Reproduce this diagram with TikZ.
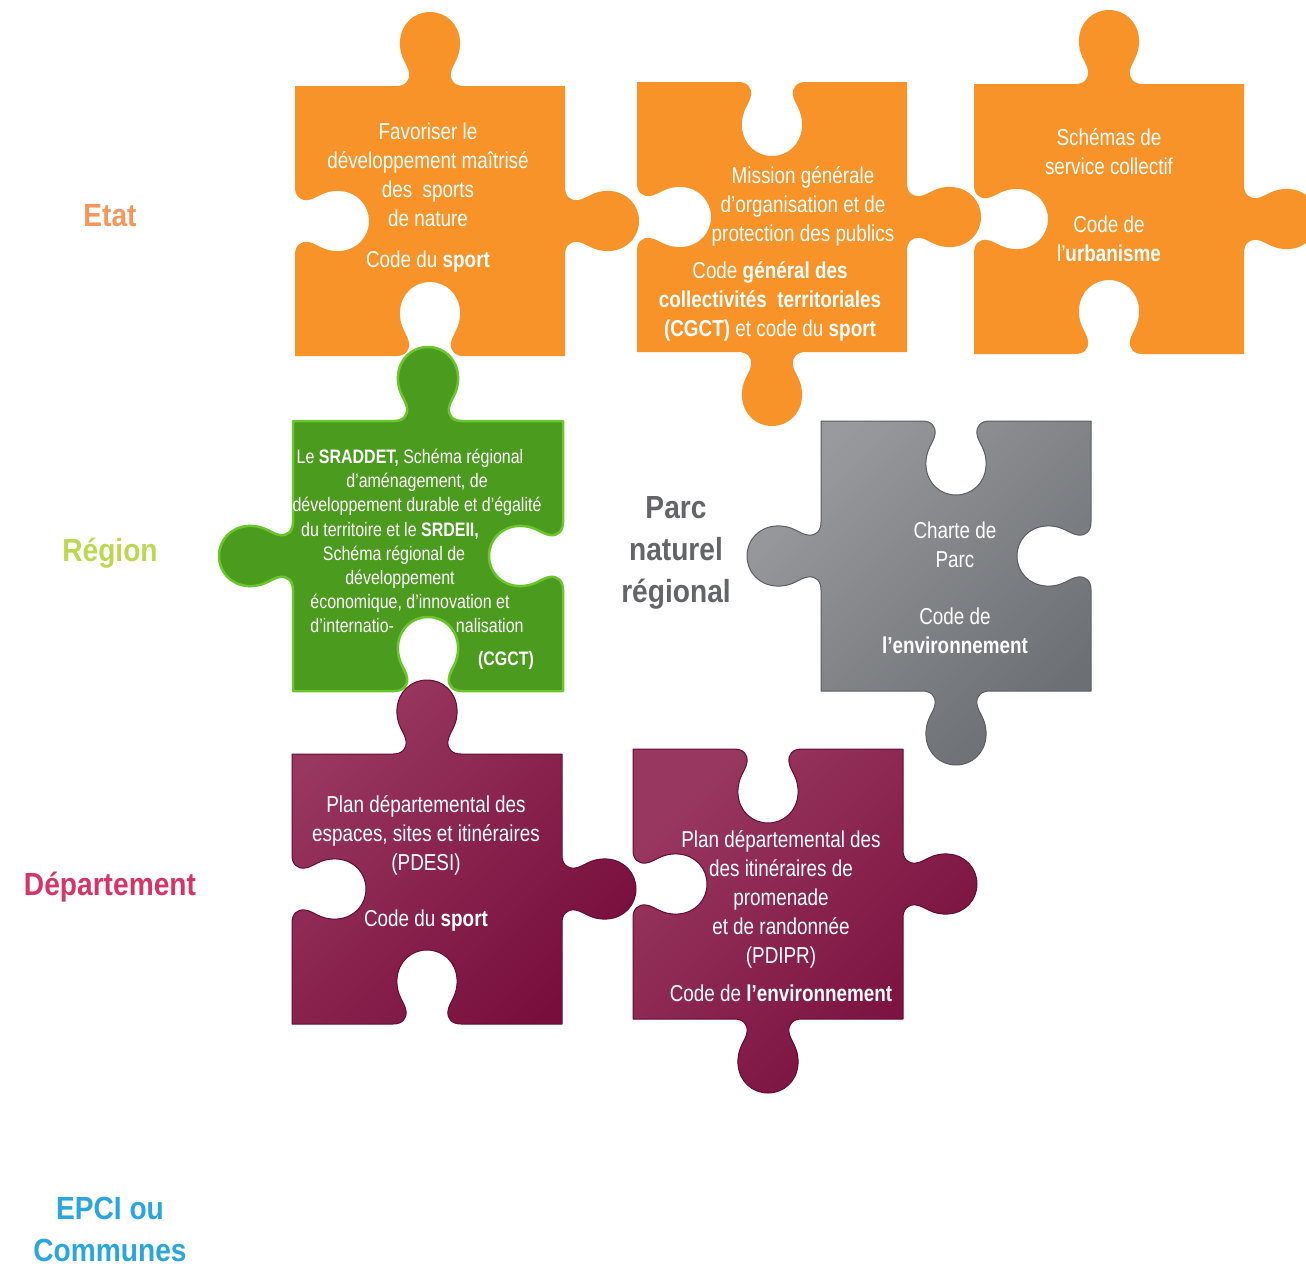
\documentclass[tikz,border=0pt]{standalone}
\usepackage{xcolor}
\usepackage{fontspec}
\setmainfont{Liberation Sans}[FakeStretch=0.82]
\newfontfamily\headfont{Liberation Sans}[FakeStretch=0.88]
\usepackage{tikz}
\definecolor{pzorange}{RGB}{247,147,41}
\definecolor{pzgreen}{RGB}{75,155,30}
\definecolor{pzgreenlight}{RGB}{105,198,45}
\definecolor{pzgrayL}{RGB}{152,154,157}
\definecolor{pzgrayD}{RGB}{108,111,115}
\definecolor{pzpurpleL}{RGB}{152,55,95}
\definecolor{pzpurpleD}{RGB}{120,14,60}
\definecolor{etatcol}{RGB}{247,150,90}
\definecolor{regioncol}{RGB}{190,214,82}
\definecolor{deptcol}{RGB}{214,52,100}
\definecolor{epcicol}{RGB}{42,165,222}
\definecolor{parccol}{RGB}{100,101,105}
\tikzset{
    piece/.style={line join=round},
    orangepiece/.style={piece, fill=pzorange},
    greenpiece/.style={piece, fill=pzgreen, draw=pzgreenlight, line width=0.05cm},
    graypiece/.style={piece, top color=pzgrayL, bottom color=pzgrayD, shading angle=45, draw=pzgrayD!85!black, line width=0.02cm},
    purplepiece/.style={piece, top color=pzpurpleL, bottom color=pzpurpleD, shading angle=45, draw=pzpurpleD!85!black, line width=0.02cm},
    intext/.style={text=white, align=center, font=\fontsize{13.1}{16.5}\selectfont},
    smalltext/.style={text=white, align=center, font=\fontsize{11.1}{13.7}\selectfont},
    level/.style={align=center, font=\headfont\bfseries\fontsize{18.2}{23.9}\selectfont}
}
% point u along a side, v outwards (times tab/blank sign)
\newcommand\pzpt[9]{({#1+(#8)*(#3)+(#7)*(#9)*(#5)},{#2+(#8)*(#4)+(#7)*(#9)*(#6)})}
\newcommand\pzknob[1]{-- #1{101}{0}
    .. controls #1{110}{0} and #1{115}{5} .. #1{114}{13}
    .. controls #1{113}{22} and #1{104}{28} .. #1{105}{45}
    .. controls #1{106}{62} and #1{119}{74} .. #1{135}{74}
    .. controls #1{151}{74} and #1{164}{62} .. #1{165}{45}
    .. controls #1{166}{28} and #1{157}{22} .. #1{156}{13}
    .. controls #1{155}{5} and #1{160}{0} .. #1{169}{0}}
\newcommand\pzside[7]{\pzknob{\pzpt{#1}{#2}{#3}{#4}{#5}{#6}{#7}}}
% x, y of top left corner, then top, right, bottom, left: 1 tab, -1 blank
\newcommand\pzpiece[6]{(#1,#2)
    \pzside{#1}{#2}{1}{0}{0}{-1}{#3} -- ({#1+270},#2)
    \pzside{#1+270}{#2}{0}{1}{1}{0}{#4} -- ({#1+270},{#2+270})
    \pzside{#1+270}{#2+270}{-1}{0}{0}{1}{#5} -- (#1,{#2+270})
    \pzside{#1}{#2+270}{0}{-1}{-1}{0}{#6} -- cycle}
\newcommand\puzzle[7]{\edef\pzpath{\pzpiece{#2}{#3}{#4}{#5}{#6}{#7}}\path[#1] \pzpath;}

\begin{document}
\begin{tikzpicture}[x=0.02cm, y=-0.02cm]
    \clip (0,0) rectangle (1306,1268);

    % Pieces
    \puzzle{orangepiece}{295}{86}{1}{1}{-1}{-1}
    \puzzle{orangepiece}{637}{82}{-1}{1}{1}{-1}
    \puzzle{orangepiece}{974}{84}{1}{1}{-1}{-1}
    \puzzle{greenpiece}{293}{421}{1}{-1}{-1}{1}
    \puzzle{graypiece}{821}{421}{-1}{-1}{1}{1}
    \puzzle{purplepiece}{292}{754}{1}{1}{-1}{-1}
    \puzzle{purplepiece}{633}{749}{-1}{1}{1}{-1}

    % Levels
    \node (etat) [level, text=etatcol] at (110,216) {Etat};
    \node (region) [level, text=regioncol] at (110,553) {Région};
    \node (dept) [level, text=deptcol] at (110,887) {Département};
    \node (epci) [level, text=epcicol] at (110,1229) {EPCI ou\\Communes};
    \node (parc) [level, text=parccol] at (676,553) {Parc\\naturel\\régional};

    % Etat
    \node (sportnat) [intext] at (428,175) {Favoriser le\\développement maîtrisé\\des\ \ sports\\de nature};
    \node (codesport) [intext] at (428,262) {Code du \textbf{sport}};
    \node (mission) [intext] at (803,206) {Mission générale\\d’organisation et de\\protection des publics};
    \node (cgct) [intext] at (770,301) {Code \textbf{général des}\\\textbf{collectivités\ \ territoriales}\\\textbf{(CGCT)} et code du \textbf{sport}};
    \node (schemas) [intext] at (1109,152) {Schémas de\\service collectif};
    \node (urba) [intext] at (1109,239) {Code de\\l’\textbf{urbanisme}};

    % Region and parc
    \node (sraddet) [smalltext] at (417,541) {Le \textbf{SRADDET,} Schéma régional\rule{0.28cm}{0pt}\\d’aménagement, de\\développement durable et d’égalité\\du territoire et le \textbf{SRDEII,}\rule{1.08cm}{0pt}\\Schéma régional de\rule{0.92cm}{0pt}\\développement\rule{0.68cm}{0pt}\\économique, d’innovation et\rule{0.28cm}{0pt}\\d’internatio-\hspace{1.24cm}nalisation};
    \node (cgctreg) [smalltext] at (506,660) {\textbf{(CGCT)}};
    \node (charte) [intext] at (955,545) {Charte de\\Parc};
    \node (envparc) [intext] at (955,631) {Code de\\\textbf{l’environnement}};

    % Departement
    \node (pdesi) [intext] at (426,835) {Plan départemental des\\espaces, sites et itinéraires\\(PDESI)};
    \node (codesportdep) [intext] at (426,921) {Code du \textbf{sport}};
    \node (pdipr) [intext] at (781,899) {Plan départemental des\\des itinéraires de\\promenade\\et de randonnée\\(PDIPR)};
    \node (envdep) [intext] at (781,993) {Code de \textbf{l’environnement}};
\end{tikzpicture}
\end{document}
